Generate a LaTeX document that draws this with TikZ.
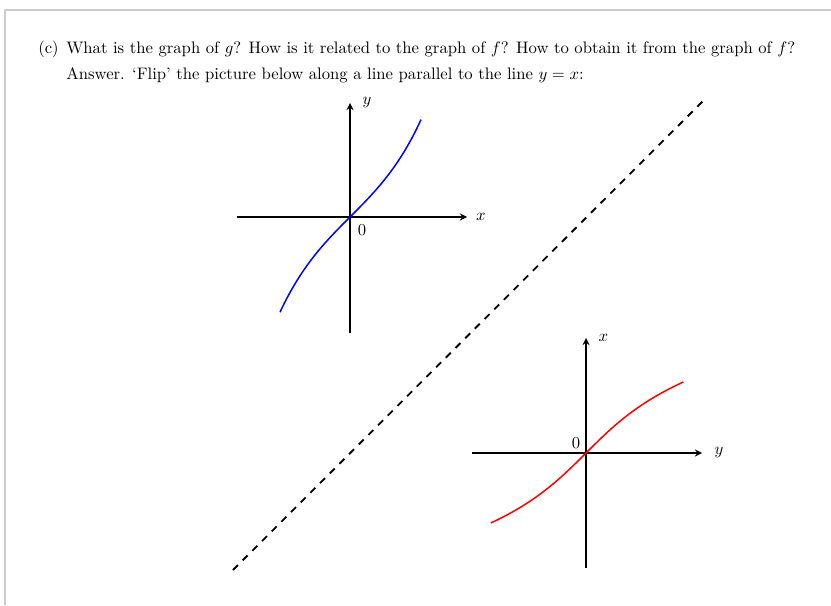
\documentclass[tikz,border=0pt]{standalone}
\usepackage{amsmath}
\begin{document}
\begin{tikzpicture}[>=stealth, x=0.6pt, y=0.6pt,
    axis/.style={->, line width=0.9pt},
    curve/.style={line width=0.9pt},
    frame/.style={black!20, line width=0.9pt},
    textline/.style={anchor=base west, inner sep=0pt}]
    \useasboundingbox (0,0) rectangle (831,605);

    % page frame
    \coordinate (ftl) at (5,595);
    \draw[frame] (5,0) -- (ftl) -- (831,595);

    % question and answer
    \node[textline] (lbl) at (38,551) {(c)};
    \node[textline] (q) at (66,551) {What is the graph of $g$? How is it related to the graph of $f$? How to obtain it from the graph of $f$?};
    \node[textline] (ans) at (66,525) {Answer. `Flip' the picture below along a line parallel to the line $y=x$:};

    % graph of f (upper)
    \coordinate (oa) at (350,388);
    \coordinate (xa0) at (237,388);
    \coordinate (xa1) at (467,388);
    \coordinate (ya0) at (350,272);
    \coordinate (ya1) at (350,502);
    \draw[axis] (xa0) -- (xa1);
    \draw[axis] (ya0) -- (ya1);
    \node[anchor=west, xshift=2pt] (xla) at (xa1) {$x$};
    \node[anchor=west, xshift=4pt] (yla) at (ya1) {$y$};
    \node (zla) at ([shift={(12,-13)}]oa) {$0$};
    \draw[blue, curve, shift={(oa)}] plot[domain=-70:71, samples=60, smooth] (\x, {50*sinh(\x/50)});

    % reflection line
    \coordinate (d0) at (233,35);
    \coordinate (d1) at (703,504);
    \draw[line width=1.1pt, dash pattern=on 4.2pt off 4pt] (d0) -- (d1);

    % flipped graph (lower)
    \coordinate (ob) at (586,152);
    \coordinate (xb0) at (472,152);
    \coordinate (xb1) at (702,152);
    \coordinate (yb0) at (586,37);
    \coordinate (yb1) at (586,267);
    \draw[axis] (xb0) -- (xb1);
    \draw[axis] (yb0) -- (yb1);
    \node[anchor=west, xshift=4pt] (ylb) at (xb1) {$y$};
    \node[anchor=west, xshift=4pt] (xlb) at (yb1) {$x$};
    \node (zlb) at ([shift={(-10,10)}]ob) {$0$};
    \draw[red, curve, shift={(ob)}] plot[domain=-70:71, samples=60, smooth] ({50*sinh(\x/50)}, \x);
\end{tikzpicture}
\end{document}
